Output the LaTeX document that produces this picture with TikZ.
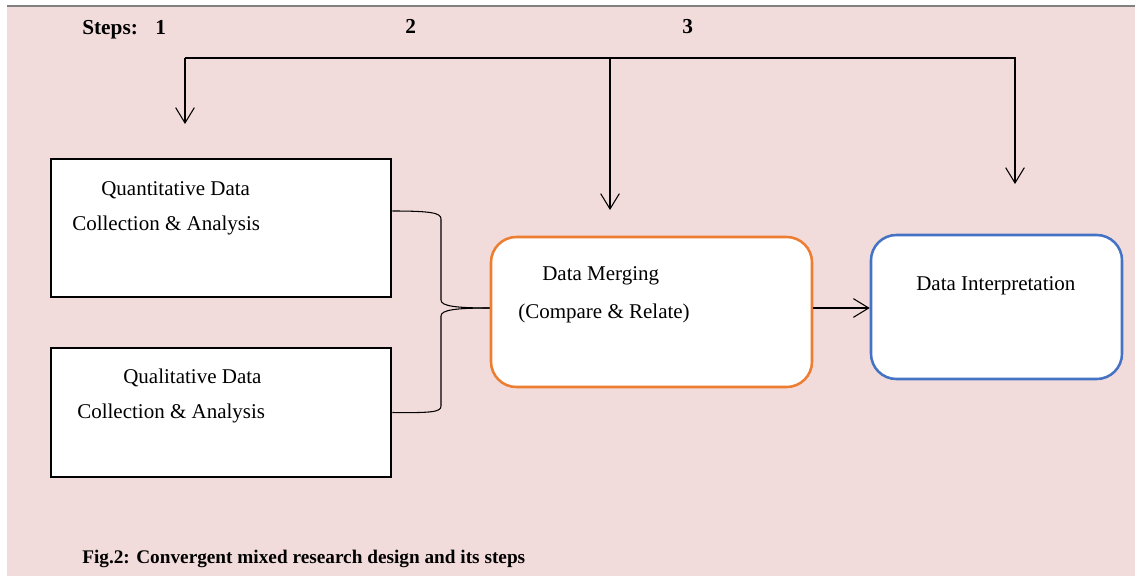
\documentclass[tikz,border=0pt]{standalone}
\usepackage{fontspec}
\setmainfont{Liberation Serif}
\usetikzlibrary{arrows.meta}
\definecolor{bgpink}{HTML}{F2DCDB}
\definecolor{morange}{HTML}{ED7D31}
\definecolor{iblue}{HTML}{4472C4}
\begin{document}
\begin{tikzpicture}[x=0.75pt,y=-0.75pt,
  plainbox/.style={draw=black, line width=1.9pt, fill=white, inner sep=0pt},
  roundbox/.style={line width=1.9pt, fill=white, rounded corners=19pt, inner sep=0pt},
  lbl/.style={anchor=base west, inner sep=0pt, font=\fontsize{15.75}{18}\selectfont},
  steplbl/.style={anchor=base west, inner sep=0pt, font=\fontsize{16}{19}\selectfont\bfseries},
  caplbl/.style={anchor=base west, inner sep=0pt, font=\fontsize{14.45}{17}\selectfont\bfseries},
  conn/.style={line width=0.8pt, draw=black},
  barb/.style={conn, -{Straight Barb[length=11.5pt, width=14pt, line width=0.8pt]}}
]
\useasboundingbox (0,0) rectangle (1135,579);
\fill[bgpink] (7,7) rectangle (1135,576);
\draw[gray, line width=1.2pt] (7,6) -- (1135,6);

% boxes
\node[plainbox, minimum width=255pt, minimum height=103.5pt] (q1) at (221,228) {};
\node[plainbox, minimum width=255pt, minimum height=96.75pt] (q2) at (221,412.5) {};
\node[roundbox, draw=morange, minimum width=240.75pt, minimum height=112.5pt] (m) at (651.5,312) {};
\node[roundbox, draw=iblue, minimum width=188.25pt, minimum height=108pt] (b) at (996.5,307) {};

% texts
\node[lbl] (q1a) at (101,195) {Quantitative Data};
\node[lbl] (q1b) at (72,230) {Collection \& Analysis};
\node[lbl] (q2a) at (123,383) {Qualitative Data};
\node[lbl] (q2b) at (77,418) {Collection \& Analysis};
\node[lbl] (ma) at (542,280) {Data Merging};
\node[lbl] (mb) at (518,318) {(Compare \& Relate)};
\node[lbl] (ba) at (916,290) {Data Interpretation};
\node[steplbl] (st) at (82,34) {Steps:};
\node[steplbl] (s1) at (155,34) {1};
\node[steplbl] (s2) at (405,33) {2};
\node[steplbl] (s3) at (682,33) {3};
\node[caplbl] (cap) at (82,563) {Fig.2: Convergent mixed research design and its steps};

% brace connectors
\path (q1.east) ++(0,-17) coordinate (qa);
\path (m.west) ++(0,-4) coordinate (mt);
\draw[conn] (qa) .. controls (432,211) and (441,213) .. (441,219) -- (441,300)
  .. controls (441,306) and (455,308) .. (mt);
\draw[conn] (mt) .. controls (455,308) and (441,310) .. (441,316) -- (441,406)
  .. controls (441,412) and (432,413) .. (q2.east);

% merge -> interpretation
\draw[barb] (m.east |- mt) -- (b.west |- mt);

% top step arrows
\coordinate (t1) at (185,58);
\coordinate (t2) at (610,58);
\coordinate (t3) at (1015,58);
\coordinate (e1) at (185,124);
\coordinate (e2) at (610,210);
\coordinate (e3) at (1015,184);
\draw[barb] (t1) -- (t3) -- (e3);
\draw[barb] (t1) -- (e1);
\draw[barb] (t2) -- (e2);
\end{tikzpicture}
\end{document}
